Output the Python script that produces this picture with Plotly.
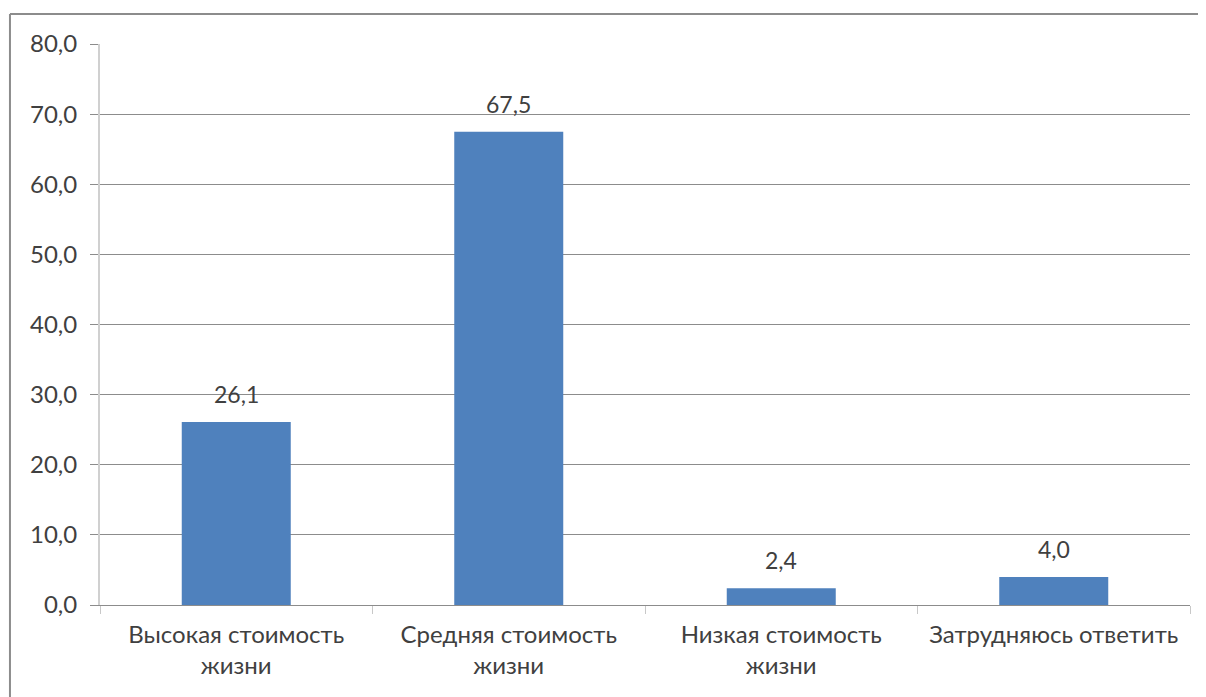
import plotly.graph_objects as go

categories = ["Высокая стоимость<br>жизни", "Средняя стоимость<br>жизни", "Низкая стоимость<br>жизни", "Затрудняюсь ответить"]
values = [26.1, 67.5, 2.4, 4.0]
y_ticks = [0, 10, 20, 30, 40, 50, 60, 70, 80]

FONT = "Lato"
TXT = "#404040"

fig = go.Figure()
fig.add_trace(go.Bar(
    x=categories, y=values,
    marker=dict(color="#4F81BD", line=dict(width=0)),
    width=0.4,
))

for c, v in zip(categories, values):
    fig.add_annotation(x=c, y=v, text=f"{v:.1f}".replace(".", ","), showarrow=False,
                       yanchor="bottom", yshift=12,
                       font=dict(family=FONT, size=23, color=TXT))

fig.update_layout(
    width=1198, height=689,
    margin=dict(l=92, r=16, t=36, b=92),
    paper_bgcolor="white", plot_bgcolor="white",
    separators=", ",
    showlegend=False,
    font=dict(family=FONT, size=23, color=TXT),
    shapes=[
        dict(type="line", xref="paper", yref="paper", x0=-0.0826, x1=1.1, y0=1.0535, y1=1.0535,
             line=dict(color="#8C8C8C", width=2)),
        dict(type="line", xref="paper", yref="paper", x0=-0.0826, x1=-0.0826, y0=1.0535, y1=-0.3,
             line=dict(color="#8C8C8C", width=2)),
    ],
)
fig.update_xaxes(
    showline=True, linecolor="#8C8C8C", linewidth=1,
    ticks="outside", tickson="boundaries", ticklen=8, tickcolor="#C8C8C8",
    showgrid=False, ticklabelstandoff=8,
    tickfont=dict(family=FONT, size=24, color=TXT),
)
fig.update_yaxes(
    range=[0, 80], tickvals=y_ticks, tickformat=".1f",
    showgrid=True, gridcolor="#8C8C8C", gridwidth=1,
    showline=True, linecolor="#D0D0D0", linewidth=2,
    ticks="outside", ticklen=8, tickcolor="#8C8C8C",
    zeroline=False, ticklabelstandoff=8,
    tickfont=dict(family=FONT, size=24, color=TXT),
)

fig.write_html("out.html")
